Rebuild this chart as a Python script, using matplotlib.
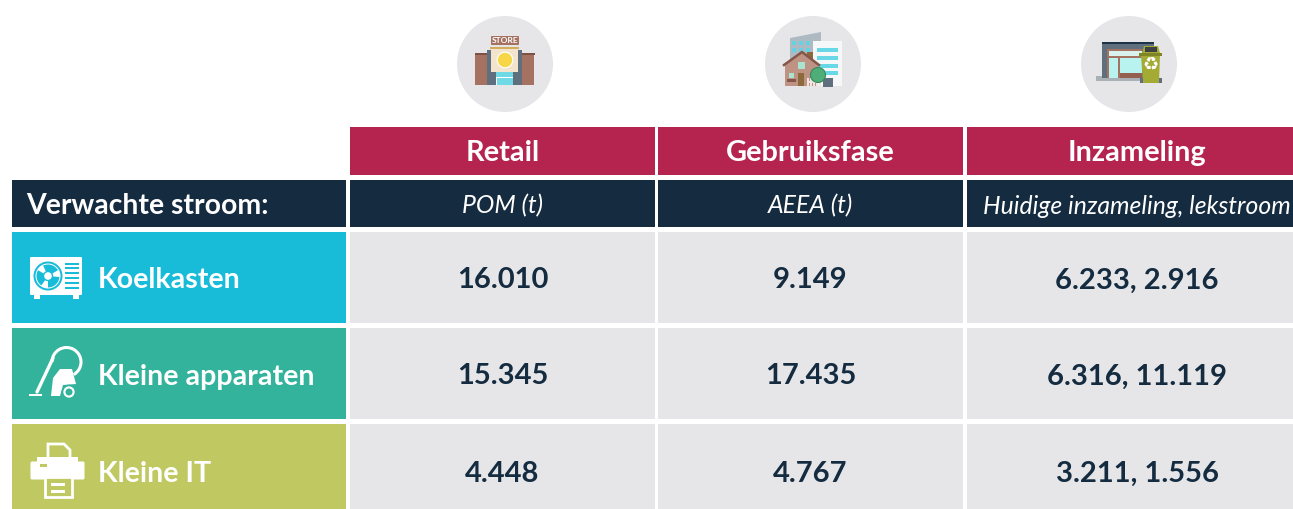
import matplotlib
matplotlib.use("Agg")
import matplotlib.pyplot as plt
from matplotlib.patches import Rectangle, Circle, Polygon, Wedge, FancyBboxPatch, Arc

kolommen = ["Retail", "Gebruiksfase", "Inzameling"]
subkoppen = ["POM (t)", "AEEA (t)", "Huidige inzameling, lekstroom"]
hoofdkop = "Verwachte stroom:"
stromen = ["Koelkasten", "Kleine apparaten", "Kleine IT"]
pom = ["16.010", "15.345", "4.448"]
aeea = ["9.149", "17.435", "4.767"]
inzameling = ["6.233, 2.916", "6.316, 11.119", "3.211, 1.556"]

ROOD = "#b4244f"
NAVY = "#142b40"
GRIJS = "#e6e6e9"
KLEUREN = ["#18bcd8", "#33b39b", "#c0c961"]

# kolom- en rijgrenzen in pixels, de laatste kolom en rij lopen buiten beeld
kol_x = [(350, 655), (658, 963), (967, 1307)]
rij_y = [(232, 323), (328, 419), (424, 518)]

plt.rcParams["font.family"] = ["Lato", "DejaVu Sans"]
fig = plt.figure(figsize=(12.93, 5.09), dpi=100)
ax = fig.add_axes([0, 0, 1, 1])
ax.set_xlim(0, 1293)
ax.set_ylim(509, 0)
ax.axis("off")


def blok(x0, y0, x1, y1, kleur, z=1):
    ax.add_patch(Rectangle((x0, y0), x1 - x0, y1 - y0, fc=kleur, ec="none", zorder=z))


def winkel(cx, cy):
    ax.add_patch(Circle((cx, cy), 48, fc=GRIJS, ec="none", zorder=2))
    blok(cx - 30, cy - 11, cx - 17, cy + 21, "#a57261", 3)
    blok(cx + 16, cy - 11, cx + 29, cy + 21, "#a57261", 3)
    blok(cx - 30, cy - 11, cx - 17, cy - 9, "#7e5145", 3)
    blok(cx + 16, cy - 11, cx + 30, cy - 9, "#7e5145", 3)
    blok(cx - 18, cy - 14, cx + 17, cy + 21, "#5f6f7e", 3)
    blok(cx - 14, cy - 16, cx + 13, cy + 8, "#f3e5cd", 4)
    blok(cx - 15, cy - 17, cx + 14, cy - 15, "#d4ad5c", 5)
    ax.add_patch(Circle((cx, cy - 4), 7.8, fc="#f7d648", ec="white", lw=0.8, zorder=5))
    blok(cx - 9, cy + 8, cx + 8, cy + 21, "#6fd9e6", 4)
    for dx in (-9, -3.5, 1.5, 6.5):
        blok(cx + dx, cy + 13, cx + dx + 0.9, cy + 21, "white", 5)
    blok(cx - 9, cy + 13, cx + 8, cy + 14, "white", 5)
    ax.add_patch(FancyBboxPatch((cx - 13, cy - 27), 26, 7, boxstyle="round,pad=1",
                                fc="#a57261", ec="none", zorder=4))
    ax.text(cx, cy - 23.5, "STORE", color="white", fontsize=6, fontweight="bold",
            ha="center", va="center", zorder=5)


def huis(cx, cy):
    ax.add_patch(Circle((cx, cy), 48, fc=GRIJS, ec="none", zorder=2))
    ax.add_patch(Polygon([(cx - 23, cy - 26), (cx + 8, cy - 32), (cx + 8, cy + 10), (cx - 23, cy + 10)],
                         fc="#aebac2", ec="none", zorder=3))
    for i in range(3):
        for j in range(2):
            blok(cx - 21 + i * 7, cy - 23 + j * 7, cx - 17 + i * 7, cy - 19 + j * 7, "#63d3e3", 4)
    blok(cx, cy - 23, cx + 29, cy + 22, "#f6f7f9", 4)
    for j in range(4):
        blok(cx + 4, cy - 16 + j * 7.8, cx + 25, cy - 12 + j * 7.8, "#68d8e6", 5)
    blok(cx - 6, cy - 12, cx, cy, "#8a6a3c", 5)
    ax.add_patch(Polygon([(cx - 28, cy + 22), (cx - 28, cy), (cx - 11, cy - 12), (cx + 5, cy), (cx + 5, cy + 22)],
                         fc="#bf9383", ec="none", zorder=6))
    ax.plot([cx - 29, cx - 11, cx + 6], [cy + 1, cy - 12, cy + 1], color="#85574a", lw=1.8, zorder=7)
    blok(cx - 15, cy - 2, cx - 8, cy + 5, "#a9e4d0", 7)
    blok(cx - 15, cy + 9, cx - 9, cy + 22, "#8b6a3b", 7)
    blok(cx - 24, cy + 9, cx - 19, cy + 14, "#a9e4d0", 7)
    blok(cx - 26, cy + 15, cx - 17, cy + 18, "#84574a", 7)
    for dx in range(-6, 8, 3):
        blok(cx + dx, cy + 14, cx + dx + 1.6, cy + 22, "#efe6e2", 7)
    blok(cx - 6, cy + 17, cx + 7, cy + 18.5, "#efe6e2", 7)
    blok(cx + 10, cy + 14, cx + 20, cy + 23, "#5f6f7e", 7)
    ax.add_patch(Circle((cx + 5, cy + 11), 7.5, fc="#4fae78", ec="#35895c", lw=0.8, zorder=8))


def bak(cx, cy):
    ax.add_patch(Circle((cx, cy), 48, fc=GRIJS, ec="none", zorder=2))
    blok(cx - 33, cy + 12, cx + 11, cy + 17, "#a9b0b6", 3)
    blok(cx - 27, cy - 22, cx + 25, cy + 14, "#5f6f7e", 3)
    blok(cx - 27, cy - 22, cx + 25, cy - 20, "#1f3347", 4)
    blok(cx - 22, cy - 15, cx + 13, cy + 14, "#a57261", 4)
    blok(cx - 20, cy - 13, cx + 13, cy - 8, "#d9f2ee", 5)
    blok(cx - 20, cy - 6, cx - 11, cy + 14, "#b9f3ef", 5)
    blok(cx - 9, cy - 6, cx + 13, cy + 9, "#b9f3ef", 5)
    blok(cx - 9, cy + 9, cx + 13, cy + 14, "#935f4e", 5)
    ax.add_patch(Polygon([(cx + 12, cy - 9), (cx + 31, cy - 9), (cx + 30, cy + 19), (cx + 14, cy + 19)],
                         fc="#a4ab34", ec="none", zorder=6))
    blok(cx + 10, cy - 11, cx + 33, cy - 8, "#7f8527", 7)
    ax.add_patch(Polygon([(cx + 13, cy - 11), (cx + 15, cy - 18), (cx + 29, cy - 18), (cx + 31, cy - 11)],
                         fc="#a4ab34", ec="none", zorder=6))
    blok(cx + 16, cy - 17, cx + 28, cy - 12, "#3d4144", 7)
    blok(cx + 11, cy + 14, cx + 14, cy + 19, "#5f6f7e", 7)
    blok(cx + 30, cy + 14, cx + 33, cy + 19, "#5f6f7e", 7)
    ax.text(cx + 21.5, cy + 2, "\u267b", color="white", fontsize=13, family="DejaVu Sans",
            ha="center", va="center", zorder=8)


def airco(kleur):
    ax.add_patch(FancyBboxPatch((31, 258), 50, 36, boxstyle="round,pad=1", fc="white", ec="none", zorder=3))
    blok(34, 294, 40, 299, "white", 3)
    blok(73, 294, 79, 299, "white", 3)
    ax.add_patch(Circle((48, 276), 14.5, fc=kleur, ec="none", zorder=4))
    ax.add_patch(Circle((48, 276), 12.5, fc="white", ec="none", zorder=5))
    for hoek in (5, 125, 245):
        ax.add_patch(Wedge((48, 276), 11.5, hoek, hoek + 85, fc=kleur, ec="none", zorder=6))
    ax.add_patch(Circle((48, 276), 4.5, fc="white", ec=kleur, lw=1, zorder=7))
    for i in range(6):
        blok(65, 262.5 + i * 4.8, 79, 264.5 + i * 4.8, kleur, 4)


def stofzuiger(kleur):
    ax.add_patch(Arc((66.5, 362), 29, 29, theta1=180, theta2=60, color="white", lw=2.2, zorder=3))
    ax.plot([53, 37], [358, 392], color="white", lw=2.4, solid_capstyle="round", zorder=3)
    blok(29, 393.5, 42, 396, "white", 3)
    ax.add_patch(Polygon([(51, 396), (53, 378), (60, 369), (72, 369), (76, 384), (63, 385), (60, 396)],
                         fc="white", ec="none", zorder=3))
    ax.add_patch(Circle((69, 392), 6.5, fc="white", ec=kleur, lw=1.2, zorder=4))
    ax.add_patch(Circle((69, 392), 3.5, fc=kleur, ec="none", zorder=5))


def printer(kleur):
    ax.add_patch(Polygon([(48, 444), (64, 444), (70, 450), (70, 460), (48, 460)], fc=kleur,
                         ec="white", lw=2, zorder=3))
    ax.add_patch(FancyBboxPatch((32, 463), 51, 15, boxstyle="round,pad=1.5", fc="white", ec="none", zorder=4))
    blok(37, 457, 78, 464, "white", 4)
    blok(40, 464, 47, 467, kleur, 5)
    blok(45, 477, 72, 497, kleur, 5)
    ax.add_patch(Rectangle((45, 477), 27, 20, fc=kleur, ec="white", lw=2, zorder=5))
    blok(51, 483, 65, 486, "white", 6)
    blok(51, 490, 65, 493, "white", 6)


# koprijen
for (x0, x1), kop, sub in zip(kol_x, kolommen, subkoppen):
    blok(x0, 127, x1, 175, ROOD)
    blok(x0, 180, x1, 227, NAVY)
    xm = (x0 + x1) / 2
    ax.text(xm, 153, kop, color="white", fontsize=20.8, fontweight="bold", ha="center", va="center")
    ax.text(xm, 206, sub, color="white", fontsize=17.8, style="italic", ha="center", va="center")

blok(12, 180, 346, 227, NAVY)
ax.text(26, 206, hoofdkop, color="white", fontsize=20.4, fontweight="bold", ha="left", va="center")

# datarijen
for i, (y0, y1) in enumerate(rij_y):
    blok(12, y0, 346, y1, KLEUREN[i])
    ym = (y0 + y1) / 2
    ax.text(98, ym + 3, stromen[i], color="white", fontsize=20.6, fontweight="bold",
            ha="left", va="center", zorder=4)
    waarden = [pom[i], aeea[i], inzameling[i]]
    for (x0, x1), w in zip(kol_x, waarden):
        blok(x0, y0, x1, y1, GRIJS)
        ax.text((x0 + x1) / 2, ym + 3, w, color=NAVY, fontsize=21, fontweight="bold",
                ha="center", va="center")

winkel(505, 64)
huis(813, 64)
bak(1129, 64)
airco(KLEUREN[0])
stofzuiger(KLEUREN[1])
printer(KLEUREN[2])

fig.savefig("out.png", dpi=100)
